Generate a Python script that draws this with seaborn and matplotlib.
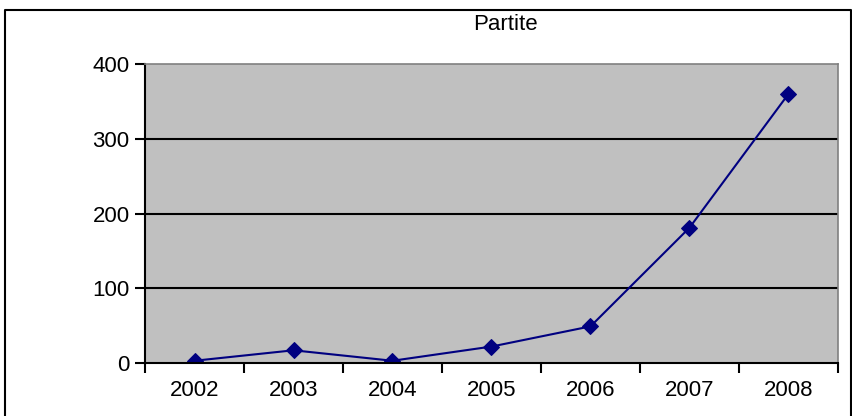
import pandas as pd
import seaborn as sns
import matplotlib.pyplot as plt
from matplotlib.lines import Line2D

anni = ['2002', '2003', '2004', '2005', '2006', '2007', '2008']
partite = [3, 17, 3, 22, 49, 181, 360]

df = pd.DataFrame({'anno': anni, 'partite': partite})

sns.set_style('white')
plt.rcParams['font.family'] = ['Liberation Sans', 'DejaVu Sans']
plt.rcParams['text.color'] = 'black'
plt.rcParams['xtick.color'] = 'black'
plt.rcParams['ytick.color'] = 'black'
plt.rcParams['xtick.labelcolor'] = 'black'
plt.rcParams['ytick.labelcolor'] = 'black'

fig = plt.figure(figsize=(8.53, 4.16), dpi=100)
ax = fig.add_axes([145 / 853, 1 - 363 / 416, (838 - 145) / 853, (363 - 64) / 416])
ax.set_facecolor('#c0c0c0')

pos = list(range(len(anni)))
sns.lineplot(x=pos, y=df['partite'], ax=ax, color='#000080', marker='D',
             markersize=8, markeredgecolor='#000080', linewidth=1.5)

ax.set_xlim(-0.5, len(anni) - 0.5)
ax.set_ylim(0, 400)
ax.set_yticks([0, 100, 200, 300, 400])
for v in [100, 200, 300]:
    ax.axhline(v, color='black', linewidth=1.5, zorder=1)

ax.set_xticks([p - 0.5 for p in range(len(anni) + 1)])
ax.set_xticklabels([])
ax.set_xticks(pos, minor=True)
ax.set_xticklabels(anni, minor=True)
ax.tick_params(axis='x', which='major', direction='out', length=7, width=1.5,
               color='black', bottom=True)
ax.tick_params(axis='x', which='minor', length=0, pad=12, labelsize=16,
               labelcolor='black')
ax.tick_params(axis='y', direction='out', length=7, width=1.5, color='black',
               labelsize=16, pad=4, left=True, labelcolor='black')

for s in ['left', 'bottom']:
    ax.spines[s].set_color('black')
    ax.spines[s].set_linewidth(1.5)
for s in ['top', 'right']:
    ax.spines[s].set_color('#808080')
    ax.spines[s].set_linewidth(1.2)
ax.set_xlabel('')
ax.set_ylabel('')

fig.text(505 / 853, 1 - 25 / 416, 'Partite', ha='center', va='center',
         fontsize=16, color='black')

# cornice esterna
x0, x1, y1 = 5 / 853, 851 / 853, 1 - 10 / 416
fig.add_artist(Line2D([x0, x0, x1, x1], [0, y1, y1, 0], color='black', linewidth=1.5,
                      transform=fig.transFigure))

fig.savefig('out.png', dpi=100)
